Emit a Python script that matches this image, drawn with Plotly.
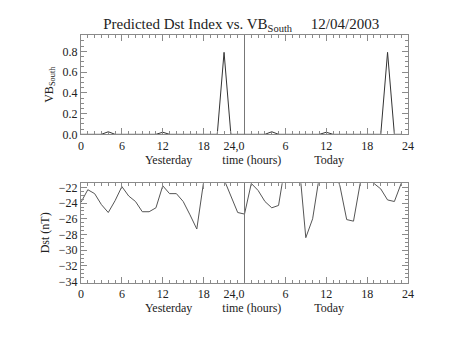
import plotly.graph_objects as go

# ---- data ----
hours_vb = list(range(48))
vb_south = [0, 0, 0, 0, 0.025, 0, 0, 0, 0, 0, 0, 0, 0.02, 0, 0, 0, 0, 0, 0, 0, 0, 0.79, 0, 0,
            0, 0, 0, 0, 0.025, 0, 0, 0, 0, 0, 0, 0, 0.02, 0, 0, 0, 0, 0, 0, 0, 0, 0.79, 0, 0]

hours_dst = list(range(49))
dst = [-23.9, -22.3, -22.8, -24.2, -25.2, -23.7, -21.9, -23.1, -23.8, -25.1, -25.1, -24.6,
       -21.8, -22.8, -22.8, -23.8, -25.5, -27.3, -21.3, -19.5, -19.8, -21.0, -23.1, -25.2,
       -25.4, -21.5, -22.4, -23.8, -24.6, -24.3, -19.0, -18.5, -18.8, -28.4, -26.0, -20.5,
       -19.0, -19.5, -21.8, -26.1, -26.3, -21.4, -20.0, -21.5, -22.2, -23.6, -23.8, -21.5,
       -20.5]

x_tickvals = [0, 6, 12, 18, 24, 30, 36, 42, 48]
NB = "\u00a0"
x_ticktext = ["0", "6", "12", "18", "24,0" + NB * 7, "6", "12", "18", "24"]
vb_tickvals = [0.0, 0.2, 0.4, 0.6, 0.8]
dst_tickvals = [-34, -32, -30, -28, -26, -24, -22]

FONT = "Liberation Serif"
TXT = "#222222"
AX = "#8a8a8a"

fig = go.Figure()
fig.add_trace(go.Scatter(x=hours_vb, y=vb_south, mode="lines",
                         line=dict(color="#333333", width=1), xaxis="x", yaxis="y",
                         showlegend=False))
fig.add_trace(go.Scatter(x=hours_dst, y=dst, mode="lines",
                         line=dict(color="#555555", width=1), xaxis="x2", yaxis="y2",
                         showlegend=False))

xtitle = ("Yesterday" + NB * 10 + "time (hours)" + NB * 11 + "Today")

def xaxis_common(anchor):
    return dict(range=[0, 48], tickvals=x_tickvals, ticktext=x_ticktext,
                ticks="inside", ticklen=6, tickcolor=AX, tickwidth=1,
                minor=dict(dtick=1, ticks="inside", ticklen=3, tickcolor=AX),
                showline=True, linecolor=AX, linewidth=1, mirror="allticks",
                showgrid=False, zeroline=False, anchor=anchor,
                tickfont=dict(family=FONT, size=12, color=TXT),
                title=dict(text=xtitle, font=dict(family=FONT, size=12, color=TXT), standoff=2),
                domain=[0, 1])

def yaxis_common(rng, tickvals, dom, anchor, title, fmt, minor_dtick):
    return dict(range=rng, tickvals=tickvals, tickformat=fmt,
                ticks="inside", ticklen=6, tickcolor=AX, tickwidth=1,
                minor=dict(dtick=minor_dtick, ticks="inside", ticklen=3, tickcolor=AX),
                showline=True, linecolor=AX, linewidth=1, mirror="allticks",
                showgrid=False, zeroline=False, anchor=anchor, domain=dom,
                tickfont=dict(family=FONT, size=12, color=TXT),
                title=dict(text=title, font=dict(family=FONT, size=12, color=TXT), standoff=6))

fig.update_layout(
    width=453, height=340,
    margin=dict(l=81, r=45, t=0, b=0),
    paper_bgcolor="white", plot_bgcolor="white",
    xaxis=xaxis_common("y"),
    xaxis2=xaxis_common("y2"),
    yaxis=yaxis_common([0, 0.957], vb_tickvals, [0.602, 0.903], "x",
                       "VB<sub>South</sub>", ".1f", 0.05),
    yaxis2=yaxis_common([-34.1, -21.47], dst_tickvals, [0.153, 0.454], "x2",
                        "Dst (nT)", "d", 0.5),
    title=dict(text="Predicted Dst Index vs. VB<sub>South</sub>" + NB * 5 + "12/04/2003",
               x=0.49, xref="paper", xanchor="center",
               y=1 - 23.5 / 340, yref="container", yanchor="middle",
               font=dict(family=FONT, size=15, color=TXT)),
    shapes=[
        dict(type="line", xref="x", yref="y domain", x0=24, x1=24, y0=0, y1=1,
             line=dict(color="#777777", width=1)),
        dict(type="line", xref="x2", yref="y2 domain", x0=24, x1=24, y0=0, y1=1,
             line=dict(color="#777777", width=1)),
    ],
)

fig.write_html("out.html")
